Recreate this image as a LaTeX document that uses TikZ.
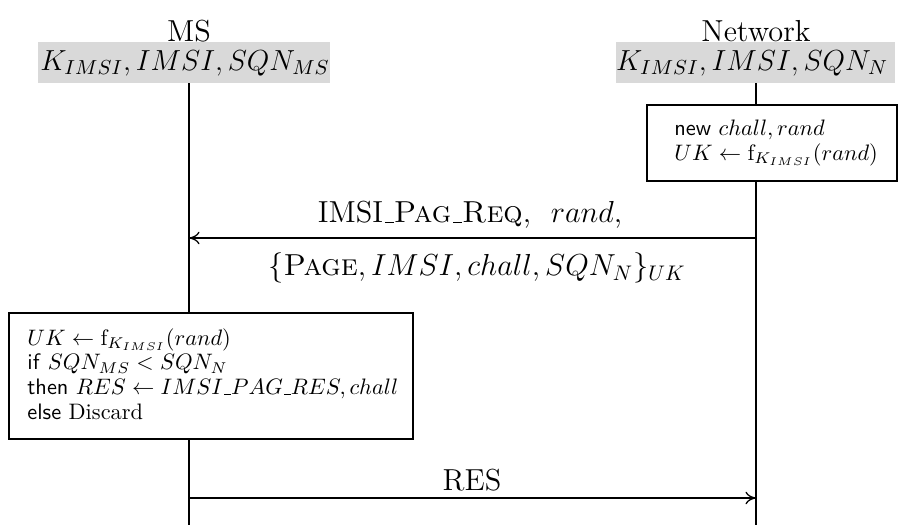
\RequirePackage{fix-cm}
\documentclass[tikz,border=0pt]{standalone}
\usetikzlibrary{arrows.meta}
% classic rule-style underscore, usable in text and math
\newcommand{\usc}{\kern.06em\vbox{\hrule width.3em}}
\begin{document}
\begin{tikzpicture}[x=0.474pt,y=-0.474pt,
  party/.style={font=\Large,inner sep=0pt},
  keytext/.style={font=\fontsize{13.75}{16}\selectfont,inner sep=0pt},
  keybox/.style={fill=black!15,draw=none,inner sep=0pt},
  life/.style={semithick},
  procbox/.style={draw,semithick,fill=white,inner sep=0pt},
  proctext/.style={align=left,anchor=west,inner sep=0pt,font=\fontsize{10.6}{11.7}\selectfont},
  msg/.style={semithick,-{To[length=5pt,width=6pt]}},
  msglabel/.style={font=\Large,inner sep=0pt}]
\useasboundingbox (0,0) rectangle (898,525);

% parties and their initial knowledge
\node[party] (ms) at (189,31) {MS};
\node[party] (net) at (756,31) {Network};
\path[keybox] (38,42) rectangle (330,83);
\path[keybox] (616,42) rectangle (895,83);
\node[keytext] (mskeys) at (185,63) {$K_{IMSI}, IMSI, SQN_{MS}$};
\node[keytext] (netkeys) at (752,63) {$K_{IMSI}, IMSI, SQN_{N}$};
\coordinate (mstop) at (189,83);
\coordinate (nettop) at (756,83);
\coordinate (msbot) at (189,525);
\coordinate (netbot) at (756,525);

% lifelines
\draw[life] (mstop) -- (msbot);
\draw[life] (nettop) -- (netbot);

% network computation
\draw[procbox] (647,105) rectangle (897,181);
\node[proctext] (netproc) at (674,143) {\textsf{new} $chall, rand$\\ $UK \leftarrow \mathrm{f}_{K_{IMSI}}(rand)$};

% paging request
\coordinate (reqN) at (756,238);
\coordinate (reqM) at (189,238);
\draw[msg] (reqN) -- (reqM);
\node[msglabel] (req1) at (470,215) {IMSI\usc\textsc{Pag}\usc\textsc{Req}, \ $rand$,};
\node[msglabel] (req2) at (477,268) {$\{\textsc{Page}, IMSI, chall, SQN_N\}_{UK}$};

% mobile station computation
\draw[procbox] (9,313) rectangle (413,439);
\node[proctext] (msproc) at (27,374) {$UK \leftarrow \mathrm{f}_{K_{IMSI}}(rand)$\\
  \textsf{if} $SQN_{MS} < SQN_N$\\
  \textsf{then} $RES \leftarrow IMSI\usc PAG\usc RES, chall$\\
  \textsf{else} Discard};

% response
\coordinate (resM) at (189,498);
\coordinate (resN) at (756,498);
\draw[msg] (resM) -- (resN);
\node[msglabel] (res) at (472,480) {RES};
\end{tikzpicture}
\end{document}
